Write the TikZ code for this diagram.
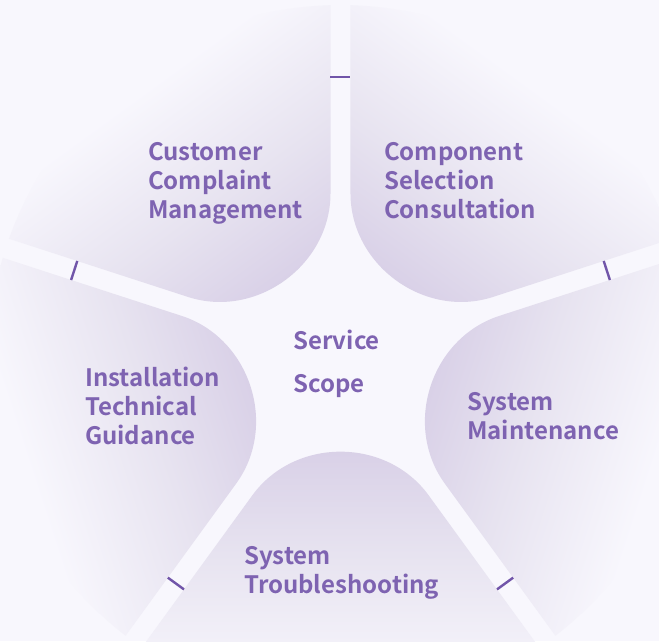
\documentclass[tikz,border=0pt]{standalone}
\usepackage{fontspec}
\newfontfamily\labfont{Noto Sans CJK SC Bold}
\definecolor{bgc}{HTML}{F8F7FD}
\definecolor{ptip}{HTML}{D7CEE6}
\definecolor{pmid}{HTML}{E7E3F0}
\definecolor{txt}{HTML}{7E63B1}
\definecolor{tickc}{HTML}{7155A9}
\pgfdeclarehorizontalshading{petalsh}{100bp}{color(0bp)=(ptip); color(25bp)=(ptip); color(45bp)=(pmid); color(68bp)=(bgc); color(100bp)=(bgc)}
\begin{document}
\begin{tikzpicture}[x=1pt,y=1pt,
  lab/.style={font=\labfont\fontsize{24}{29}\selectfont, text=txt, align=left, anchor=north west, inner sep=0pt},
  centerlab/.style={lab, font=\labfont\fontsize{24}{43}\selectfont},
  tickline/.style={draw=tickc, line width=2.4pt},
  petal/.style={shading=petalsh}]
\fill[bgc] (-340.5,-284) rectangle (318.5,357);
\foreach \a in {54,126,198,270,342}{
  \begin{scope}[transform canvas={rotate=\a}]
    \shade[petal] (290.5,-198.7) -- (138.35,-88.17)
      .. controls (80.10,-45.85) and (80.10,45.85) .. (138.35,88.17)
      -- (290.5,198.7) arc[start angle=34.37, end angle=-34.37, radius=352] -- cycle;
  \end{scope}
}
\foreach \b in {90,162,234,306,18}{
  \draw[tickline] (\b:280) ++(\b+90:10) -- ++(\b-90:20);
}
\node[lab] (cust) at (-192.5,215) {Customer\\Complaint\\Management};
\node[lab] (comp) at (43.5,215) {Component\\Selection\\Consultation};
\node[lab] (inst) at (-255.5,-10) {Installation\\Technical\\Guidance};
\node[lab] (maint) at (126.5,-35) {System\\Maintenance};
\node[lab] (troub) at (-96.5,-189) {System\\Troubleshooting};
\node[centerlab] (scope) at (-47.5,27) {Service\\Scope};
\pgfresetboundingbox
\useasboundingbox (-340.5,-284) rectangle (318.5,357);
\end{tikzpicture}
\end{document}
